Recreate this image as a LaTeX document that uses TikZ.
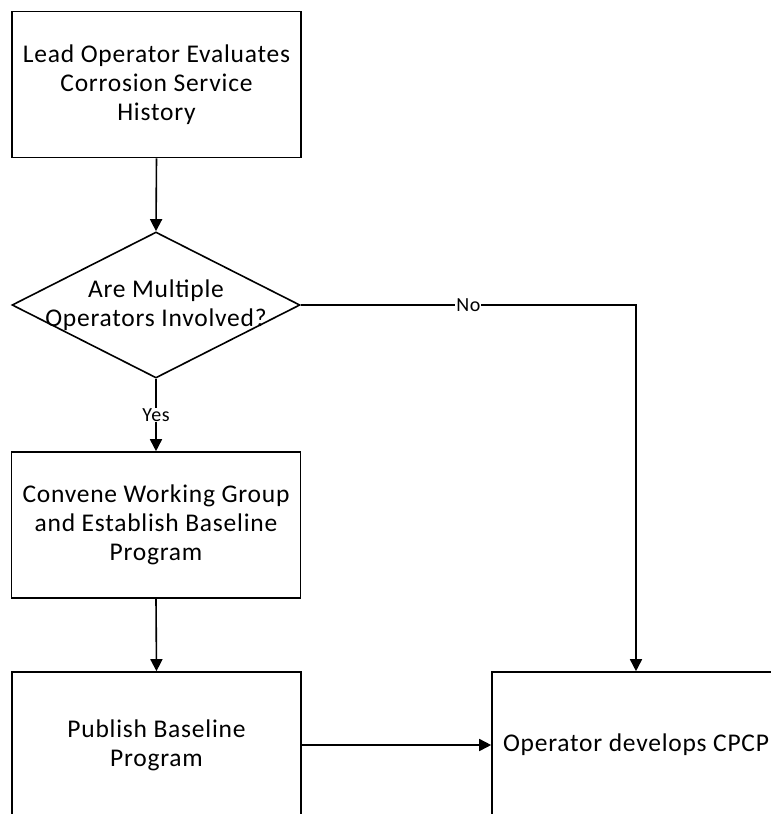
\documentclass[tikz,border=0pt]{standalone}
\usepackage{fontspec}
\setmainfont[LetterSpace=3]{Carlito}
\usetikzlibrary{shapes.geometric,arrows.meta}
\begin{document}
\begin{tikzpicture}[x=1pt,y=-1pt,
  line width=1.6pt,
  box/.style={draw, rectangle, minimum width=289pt, minimum height=146pt, inner sep=0pt, align=center, font=\fontsize{25.5}{29}\selectfont},
  dec/.style={draw, diamond, minimum width=288pt, minimum height=146pt, inner sep=0pt},
  txt/.style={align=center, font=\fontsize{25.5}{29}\selectfont},
  lbl/.style={fill=white, inner sep=1pt, font=\fontsize{20}{22}\selectfont},
  arr/.style={-{Triangle[length=12pt,width=12pt]}}]
\useasboundingbox (0,0) rectangle (771,814);
\begin{scope}
\clip (0,0) rectangle (771,814);
\node[box] (b1) at (156.5,84.5) {Lead Operator Evaluates\\Corrosion Service\\History};
\node[dec] (d) at (156,305) {};
\node[txt] (dt) at (156,305) {Are Multiple\\Operators Involved?};
\node[box] (b2) at (156,525) {Convene Working Group\\and Establish Baseline\\Program};
\node[box] (b3) at (156.5,745) {Publish Baseline\\Program};
\node[box, minimum width=288pt] (b4) at (636,745) {Operator develops CPCP};
\draw[arr] (b1.south) -- (d.north);
\draw[arr] (d.south) -- node[lbl] (yes) {Yes} (b2.north);
\draw[arr] (d.east) -| node[lbl, pos=0.25] (no) {No} (b4.north);
\draw[arr] (b2.south) -- (b3.north);
\draw[arr] (b3.east) -- (b4.west);
\end{scope}
\end{tikzpicture}
\end{document}
